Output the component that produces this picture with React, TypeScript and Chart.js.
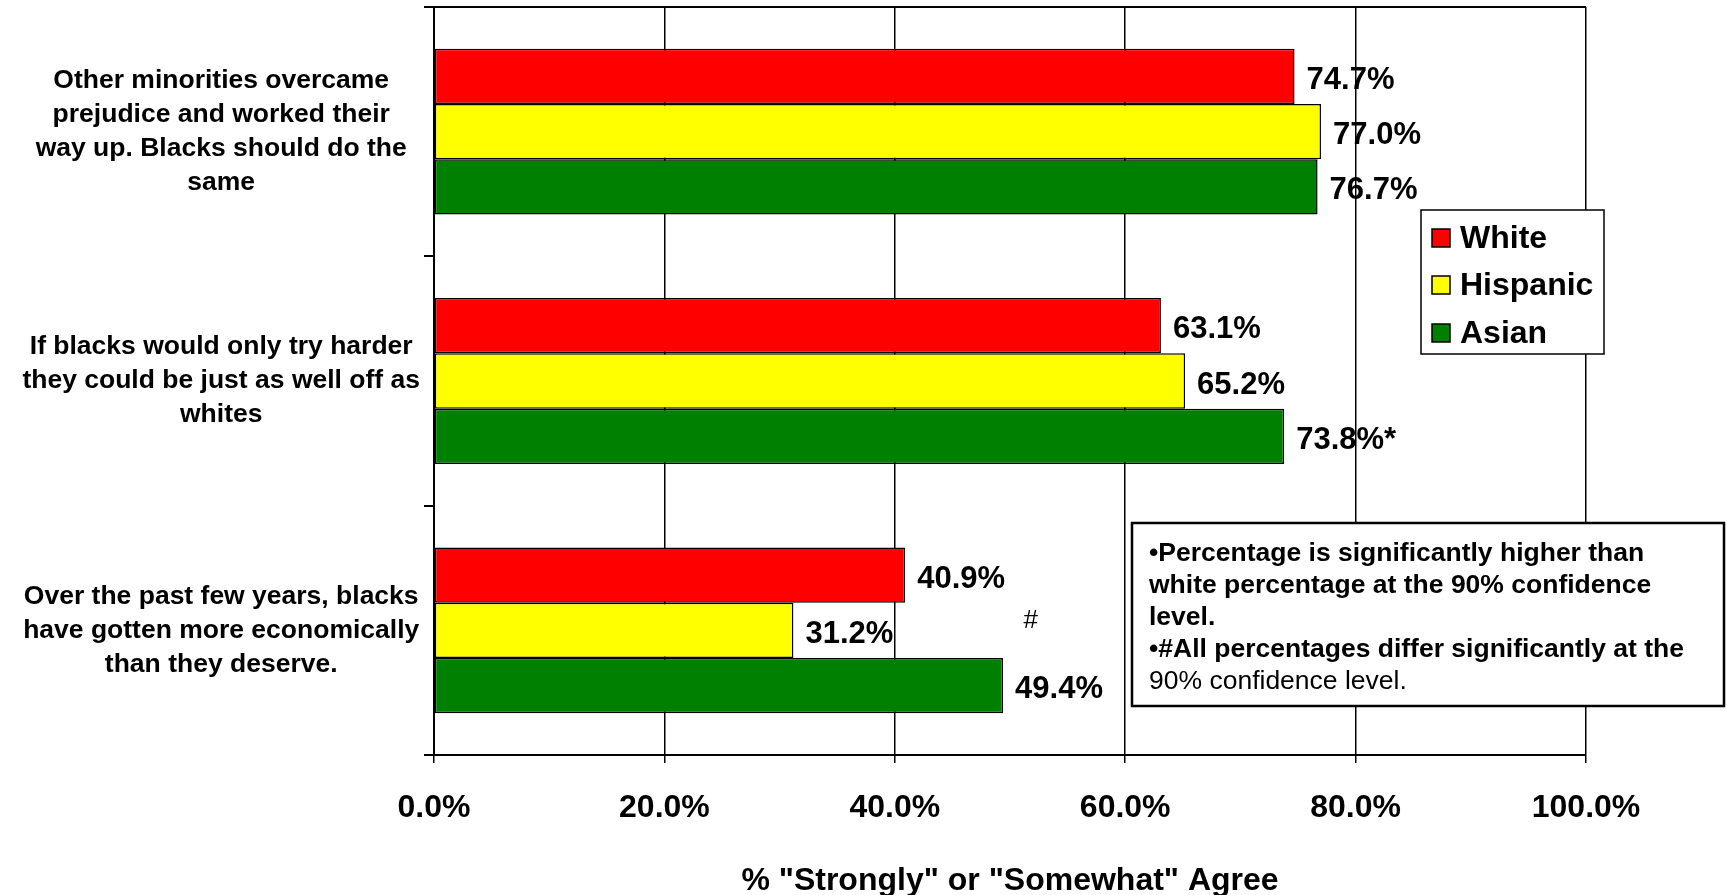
import React, { useEffect, useRef } from "react";
import { Chart, registerables } from "chart.js";

Chart.register(...registerables);

const categories: string[][] = [
  ["Other minorities overcame", "prejudice and worked their", "way up. Blacks should do the", "same"],
  ["If blacks would only try harder", "they could be just as well off as", "whites"],
  ["Over the past few years, blacks", "have gotten more economically", "than they deserve."],
];
const seriesNames = ["White", "Hispanic", "Asian"];
const seriesColors = ["#FF0000", "#FFFF00", "#008000"];
const whiteValues = [74.7, 63.1, 40.9];
const hispanicValues = [77.0, 65.2, 31.2];
const asianValues = [76.7, 73.8, 49.4];
const whiteMarks = ["", "", ""];
const hispanicMarks = ["", "", ""];
const asianMarks = ["", "*", ""];
const xTickValues = [0, 20, 40, 60, 80, 100];
const xAxisTitle = '% "Strongly" or "Somewhat" Agree';
const hashMarkText = "#";
const hashMarkValue = 51.8;
const hashMarkCategory = 2;
const noteLines: { text: string; bold: boolean }[] = [
  { text: "\u2022Percentage is significantly higher than", bold: true },
  { text: "white percentage at the 90% confidence", bold: true },
  { text: "level.", bold: true },
  { text: "\u2022#All percentages differ significantly at the", bold: true },
  { text: "90% confidence level.", bold: false },
];

const FONT = "'Liberation Sans', Arial, Helvetica, sans-serif";

// value labels drawn before the grid so grid lines pass over them (as in the original)
const valueLabelPlugin = {
  id: "valueLabels",
  beforeDraw(chart: any) {
    const ctx = chart.ctx;
    ctx.save();
    ctx.font = `bold 31px ${FONT}`;
    ctx.fillStyle = "#000";
    ctx.textAlign = "left";
    ctx.textBaseline = "middle";
    chart.data.datasets.forEach((ds: any, di: number) => {
      const meta = chart.getDatasetMeta(di);
      meta.data.forEach((el: any, i: number) => {
        const v = ds.data[i] as number;
        const mark = ds.marks ? ds.marks[i] : "";
        ctx.fillText(v.toFixed(1) + "%" + mark, el.x + 12, el.y + 4);
      });
    });
    const xs = chart.scales.x;
    const ys = chart.scales.y;
    ctx.font = `26px ${FONT}`;
    ctx.textAlign = "center";
    ctx.fillText(hashMarkText, xs.getPixelForValue(hashMarkValue), ys.getPixelForValue(hashMarkCategory) - 10);
    ctx.restore();
  },
};

const legendBoxPlugin = {
  id: "legendBox",
  afterDraw(chart: any) {
    const ctx = chart.ctx;
    ctx.save();
    const bx = 1421, by = 210, bw = 183, bh = 144;
    ctx.fillStyle = "#fff";
    ctx.fillRect(bx, by, bw, bh);
    ctx.strokeStyle = "#000";
    ctx.lineWidth = 1.5;
    ctx.strokeRect(bx, by, bw, bh);
    const rows = [238, 285, 333];
    chart.data.datasets.forEach((ds: any, i: number) => {
      const cy = rows[i];
      ctx.fillStyle = ds.backgroundColor;
      ctx.fillRect(bx + 11, cy - 9, 18, 18);
      ctx.strokeStyle = "#000";
      ctx.lineWidth = 1.5;
      ctx.strokeRect(bx + 11, cy - 9, 18, 18);
      ctx.fillStyle = "#000";
      ctx.font = `bold 32px ${FONT}`;
      ctx.textAlign = "left";
      ctx.textBaseline = "middle";
      ctx.fillText(ds.label, bx + 39, cy + 1);
    });
    const nx = 1132, ny = 523, nw = 592, nh = 183;
    ctx.fillStyle = "#fff";
    ctx.fillRect(nx, ny, nw, nh);
    ctx.strokeStyle = "#000";
    ctx.lineWidth = 2.5;
    ctx.strokeRect(nx, ny, nw, nh);
    ctx.fillStyle = "#000";
    ctx.textAlign = "left";
    ctx.textBaseline = "middle";
    noteLines.forEach((ln, i) => {
      ctx.font = `${ln.bold ? "bold " : ""}26.5px ${FONT}`;
      ctx.fillText(ln.text, nx + 17, 554 + i * 32);
    });
    ctx.restore();
  },
};

export default function App() {
  const ref = useRef<HTMLCanvasElement | null>(null);
  useEffect(() => {
    if (!ref.current) return;
    Chart.defaults.font.family = FONT;
    const chart = new Chart(ref.current, {
      type: "bar",
      data: {
        labels: categories,
        datasets: [
          { label: seriesNames[0], data: whiteValues, backgroundColor: seriesColors[0], marks: whiteMarks } as any,
          { label: seriesNames[1], data: hispanicValues, backgroundColor: seriesColors[1], marks: hispanicMarks } as any,
          { label: seriesNames[2], data: asianValues, backgroundColor: seriesColors[2], marks: asianMarks } as any,
        ].map((d: any) => ({
          ...d,
          borderColor: "#000",
          borderWidth: 1.5,
          borderSkipped: false,
          categoryPercentage: 0.665,
          barPercentage: 1.0,
        })),
      },
      options: {
        indexAxis: "y",
        animation: false,
        responsive: true,
        maintainAspectRatio: false,
        layout: { padding: { left: 0, top: 7, right: 141, bottom: 0 } },
        plugins: { legend: { display: false }, tooltip: { enabled: false }, title: { display: false } },
        scales: {
          x: {
            min: 0,
            max: 100,
            afterBuildTicks: (scale: any) => {
              scale.ticks = xTickValues.map((v) => ({ value: v }));
            },
            afterFit: (scale: any) => {
              scale.height = 140;
            },
            grid: { color: "#000", lineWidth: 1.5, tickLength: 8, tickColor: "#000" },
            border: { color: "#000", width: 2 },
            ticks: {
              padding: 26,
              color: "#000",
              font: { family: FONT, size: 32, weight: "bold" },
              callback: (v: any) => Number(v).toFixed(1) + "%",
              maxRotation: 0,
            },
            title: {
              display: true,
              text: xAxisTitle,
              color: "#000",
              font: { family: FONT, size: 32, weight: "bold" },
              padding: { top: 0, bottom: -5 },
            },
          },
          y: {
            afterFit: (scale: any) => {
              scale.width = 434;
              scale.paddingTop = 0;
              scale.paddingBottom = 0;
            },
            grid: {
              color: (c: any) => (c.index === 0 ? "#000" : "rgba(0,0,0,0)"),
              lineWidth: 2,
              tickLength: 10,
              tickColor: "#000",
            },
            border: { color: "#000", width: 2 },
            ticks: {
              crossAlign: "center",
              padding: 4,
              color: "#000",
              font: { family: FONT, size: 26.5, weight: "bold", lineHeight: 1.28 },
              autoSkip: false,
            },
          },
        },
      } as any,
      plugins: [valueLabelPlugin, legendBoxPlugin],
    });
    return () => chart.destroy();
  }, []);
  return (
    <div style={{ position: "fixed", left: 0, top: 0, width: 1727, height: 895, background: "#fff" }}>
      <canvas ref={ref} />
    </div>
  );
}
